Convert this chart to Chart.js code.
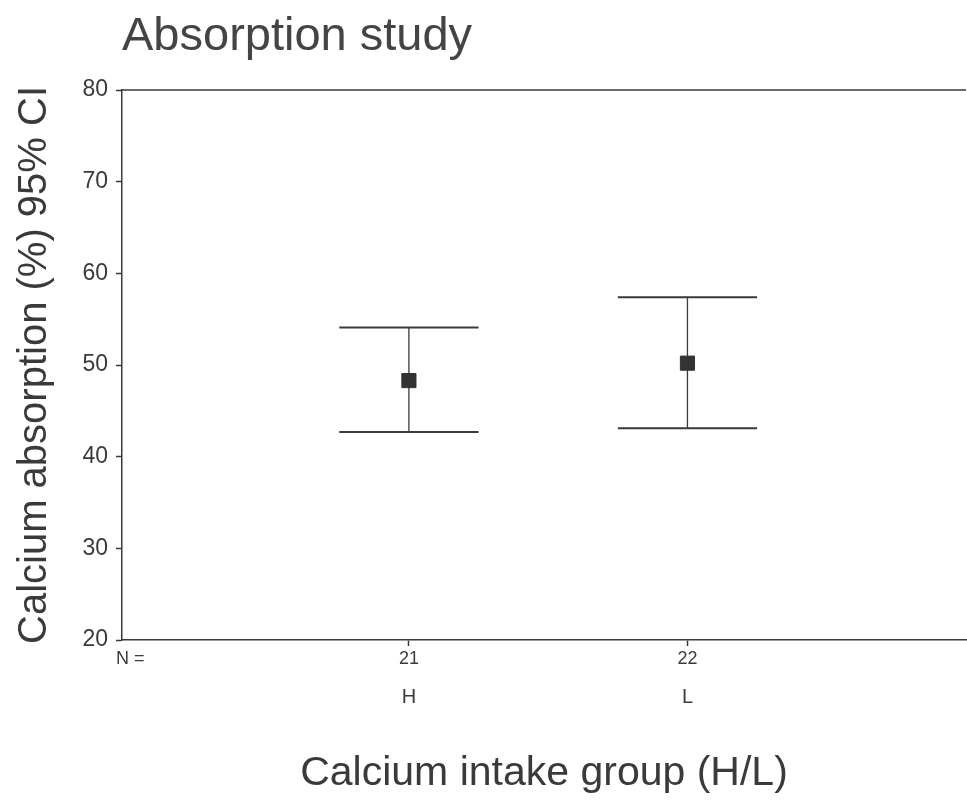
<!DOCTYPE html>
<html>
<head>
<meta charset="utf-8">
<script src="https://cdn.jsdelivr.net/npm/chart.js@4.4.1/dist/chart.umd.min.js"></script>
<style>
  html, body { margin: 0; padding: 0; background: #fff; overflow: hidden; }
  #wrap { width: 967px; height: 807px; overflow: hidden; }
</style>
</head>
<body>
<div id="wrap"><canvas id="absChart" width="977" height="807"></canvas></div>
<script>
// groups and values
const groups = ["H", "L"];
const nCounts = [21, 22];
const means = [48.3, 50.2];
const lowerCI = [42.7, 43.1];
const upperCI = [54.1, 57.4];
const yTicks = [20, 30, 40, 50, 60, 70, 80];

const ink = "#3a3a3a";
const fontName = "'Liberation Sans', Arial, sans-serif";

// title text drawn at the left edge of the plot area + top frame line
const framePlugin = {
  id: "frame",
  afterDraw(chart) {
    const { ctx, chartArea } = chart;
    ctx.save();
    ctx.strokeStyle = ink;
    ctx.lineWidth = 1.5;
    ctx.beginPath();
    ctx.moveTo(chartArea.left, chartArea.top);
    ctx.lineTo(chartArea.right, chartArea.top);
    ctx.stroke();
    ctx.fillStyle = "#444";
    ctx.font = "47px " + fontName;
    ctx.textBaseline = "alphabetic";
    ctx.fillText("Absorption study", chartArea.left, 50);
    ctx.restore();
  },
};

// 95% CI bars: vertical line with wide caps
const ciPlugin = {
  id: "ciBars",
  beforeDatasetsDraw(chart) {
    const { ctx, scales } = chart;
    const x = scales.x, y = scales.y;
    ctx.save();
    ctx.strokeStyle = ink;
    groups.forEach((g, i) => {
      const pos = i + 1;
      const xc = x.getPixelForValue(pos);
      const xl = x.getPixelForValue(pos - 0.25);
      const xr = x.getPixelForValue(pos + 0.25);
      const yl = y.getPixelForValue(lowerCI[i]);
      const yu = y.getPixelForValue(upperCI[i]);
      ctx.lineWidth = 1.3;
      ctx.beginPath();
      ctx.moveTo(xc, yl);
      ctx.lineTo(xc, yu);
      ctx.stroke();
      ctx.lineWidth = 2;
      ctx.beginPath();
      ctx.moveTo(xl, yu);
      ctx.lineTo(xr, yu);
      ctx.moveTo(xl, yl);
      ctx.lineTo(xr, yl);
      ctx.stroke();
    });
    ctx.restore();
  },
};

const ctx = document.getElementById("absChart").getContext("2d");

new Chart(ctx, {
  type: "scatter",
  data: {
    datasets: [
      {
        data: means.map((m, i) => ({ x: i + 1, y: m })),
        pointStyle: "rect",
        pointRadius: 10,
        backgroundColor: "#333",
        borderColor: "#333",
        borderWidth: 1,
      },
    ],
  },
  options: {
    responsive: false,
    animation: false,
    layout: { padding: { top: 90, left: 0, right: 0, bottom: 0 } },
    plugins: {
      legend: { display: false },
      tooltip: { enabled: false },
    },
    scales: {
      x: {
        type: "linear",
        position: "bottom",
        min: -0.03,
        max: 3,
        afterBuildTicks: (scale) => {
          scale.ticks = [0, 1, 2].map((v) => ({ value: v }));
        },
        afterFit: (scale) => {
          scale.height = 36;
        },
        ticks: {
          color: ink,
          font: { family: fontName, size: 18 },
          padding: 2,
          maxRotation: 0,
          autoSkip: false,
          callback: (v) => (v === 0 ? "N =" : String(nCounts[v - 1])),
        },
        grid: {
          drawOnChartArea: false,
          drawTicks: true,
          tickLength: 6,
          tickColor: (c) => (c.tick && c.tick.value === 0 ? "rgba(0,0,0,0)" : ink),
          tickWidth: 1.5,
        },
        border: { display: true, color: ink, width: 1.5 },
      },
      x2: {
        type: "linear",
        position: "bottom",
        min: -0.03,
        max: 3,
        afterBuildTicks: (scale) => {
          scale.ticks = [1, 2].map((v) => ({ value: v }));
        },
        afterFit: (scale) => {
          scale.height = 807 - 640 - 36;
        },
        ticks: {
          color: ink,
          font: { family: fontName, size: 20 },
          padding: 9,
          maxRotation: 0,
          autoSkip: false,
          callback: (v) => groups[v - 1] || "",
        },
        grid: { display: false, drawTicks: false },
        border: { display: false },
        title: {
          display: true,
          text: "Calcium intake group (H/L)",
          color: ink,
          font: { family: fontName, size: 41 },
          padding: { top: 0, bottom: 9 },
        },
      },
      y: {
        min: 20,
        max: 80,
        afterBuildTicks: (scale) => {
          scale.ticks = yTicks.map((v) => ({ value: v }));
        },
        afterFit: (scale) => {
          scale.width = 122;
        },
        ticks: {
          color: ink,
          font: { family: fontName, size: 23 },
          padding: 8,
        },
        grid: {
          drawOnChartArea: false,
          drawTicks: true,
          tickLength: 6,
          tickColor: ink,
          tickWidth: 1.5,
        },
        border: { display: true, color: ink, width: 1.5 },
        title: {
          display: true,
          text: "Calcium absorption (%) 95% CI",
          color: ink,
          font: { family: fontName, size: 40 },
          padding: { top: 11, bottom: 0 },
        },
      },
    },
  },
  plugins: [ciPlugin, framePlugin],
});
</script>
</body>
</html>
